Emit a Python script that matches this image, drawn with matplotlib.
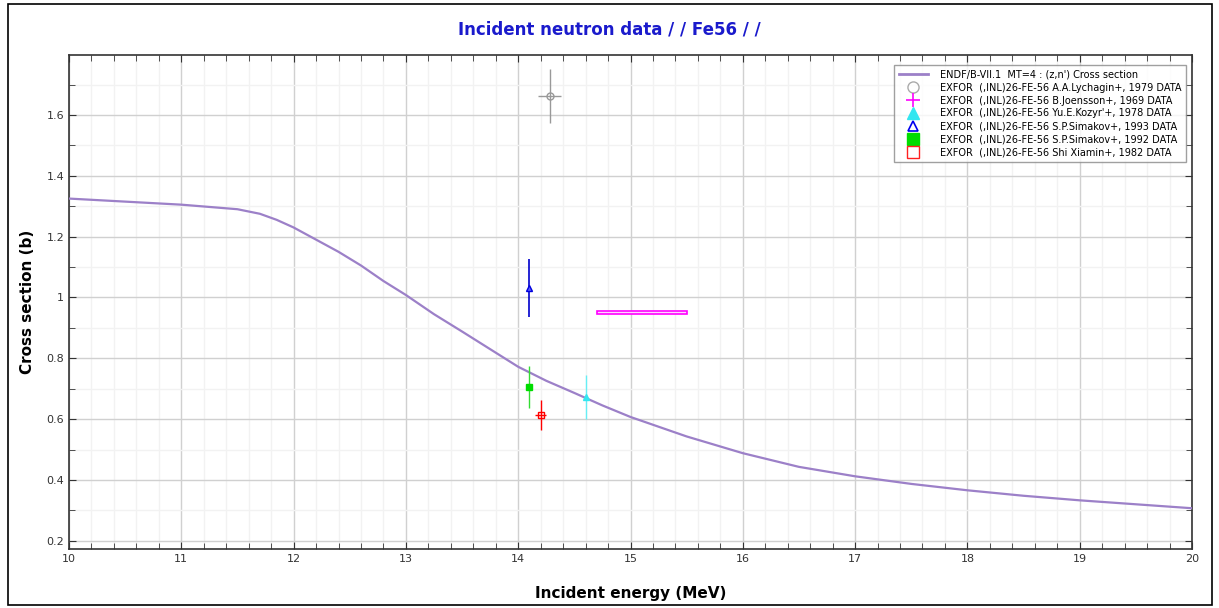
import matplotlib
matplotlib.use("Agg")
import matplotlib.pyplot as plt
from matplotlib.patches import Rectangle
from matplotlib.lines import Line2D
from matplotlib.ticker import MultipleLocator

# ENDF/B-VII.1 MT=4 curve
endf_e = [10, 10.5, 11, 11.5, 11.7, 11.85, 12, 12.2, 12.4, 12.6, 12.8, 13, 13.25, 13.5, 13.75, 14,
          14.25, 14.5, 14.75, 15, 15.5, 16, 16.5, 17, 17.5, 18, 18.5, 19, 19.5, 20]
endf_xs = [1.325, 1.315, 1.305, 1.29, 1.275, 1.255, 1.23, 1.19, 1.15, 1.105, 1.054, 1.008, 0.945,
           0.888, 0.83, 0.772, 0.726, 0.686, 0.645, 0.607, 0.543, 0.488, 0.443, 0.412, 0.387,
           0.366, 0.348, 0.333, 0.32, 0.307]

# EXFOR data points: energy, xs, dE, dxs
lych_e, lych_xs, lych_de, lych_dxs = [14.28], [1.662], [0.1], [0.09]
joen_e, joen_xs, joen_de, joen_dxs = [15.1], [0.951], [0.4], [0.006]
kozyr_e, kozyr_xs, kozyr_dxs = [14.6], [0.672], [0.072]
sim93_e, sim93_xs, sim93_dxs = [14.1], [1.03], [0.095]
sim92_e, sim92_xs, sim92_dxs = [14.1], [0.706], [0.07]
shi_e, shi_xs, shi_de, shi_dxs = [14.2], [0.613], [0.05], [0.05]

labels = [
    "ENDF/B-VII.1  MT=4 : (z,n') Cross section",
    "EXFOR  (,INL)26-FE-56 A.A.Lychagin+, 1979 DATA",
    "EXFOR  (,INL)26-FE-56 B.Joensson+, 1969 DATA",
    "EXFOR  (,INL)26-FE-56 Yu.E.Kozyr'+, 1978 DATA",
    "EXFOR  (,INL)26-FE-56 S.P.Simakov+, 1993 DATA",
    "EXFOR  (,INL)26-FE-56 S.P.Simakov+, 1992 DATA",
    "EXFOR  (,INL)26-FE-56 Shi Xiamin+, 1982 DATA",
]

fig = plt.figure(figsize=(12.19, 6.08), dpi=100)
ax = fig.add_axes([69 / 1219, 1 - 549 / 608, (1192 - 69) / 1219, (549 - 55) / 608])

# outer frame around the picture
fig.patches.append(Rectangle((8 / 1219, 3 / 608), 1204 / 1219, 601 / 608, transform=fig.transFigure,
                             fill=False, edgecolor="black", lw=1.2))

ax.plot(endf_e, endf_xs, color="#9c80c8", lw=1.6, zorder=3)

ax.errorbar(lych_e, lych_xs, xerr=lych_de, yerr=lych_dxs, fmt="o", ms=5, mfc="none", mec="#999999",
            ecolor="#999999", elinewidth=1, zorder=4)
# Joensson: energy-bin box
for e, xs, de, dxs in zip(joen_e, joen_xs, joen_de, joen_dxs):
    ax.add_patch(Rectangle((e - de, xs - dxs), 2 * de, 2 * dxs, facecolor="#ffd8ff",
                           edgecolor="#ff00ff", lw=1.2, zorder=4))
ax.errorbar(kozyr_e, kozyr_xs, yerr=kozyr_dxs, fmt="^", ms=5, color="#33e6f0",
            ecolor="#66eef5", elinewidth=1, zorder=4)
ax.errorbar(sim93_e, sim93_xs, yerr=sim93_dxs, fmt="^", ms=5, mfc="#5a5aff", mec="#0000dd",
            ecolor="#0000cc", elinewidth=1.2, zorder=4)
ax.errorbar(sim92_e, sim92_xs, yerr=sim92_dxs, fmt="s", ms=4, color="#00dd00",
            ecolor="#33dd33", elinewidth=1, zorder=4)
ax.errorbar(shi_e, shi_xs, xerr=shi_de, yerr=shi_dxs, fmt="s", ms=5, mfc="none", mec="#ff0000",
            ecolor="#ff0000", elinewidth=1, zorder=4)

ax.set_xlim(10, 20)
ax.set_ylim(0.173, 1.797)
ax.xaxis.set_major_locator(MultipleLocator(1))
ax.xaxis.set_minor_locator(MultipleLocator(0.2))
ax.yaxis.set_minor_locator(MultipleLocator(0.1))
ax.set_yticks([0.2, 0.4, 0.6, 0.8, 1.0, 1.2, 1.4, 1.6])
ax.set_yticklabels(["0.2", "0.4", "0.6", "0.8", "1", "1.2", "1.4", "1.6"])

ax.grid(True, which="major", color="#d0d0d0", lw=1)
ax.grid(True, which="minor", color="#f2f2f2", lw=1)
ax.set_axisbelow(True)
ax.tick_params(which="both", direction="in", top=True, right=True, labelsize=8, colors="#333333")
ax.tick_params(which="major", length=5)
ax.tick_params(which="minor", length=4)
for s in ax.spines.values():
    s.set_linewidth(1.2)
    s.set_color("#333333")

ax.set_xlabel("Incident energy (MeV)", fontsize=11, fontweight="bold", labelpad=16)
ax.set_ylabel("Cross section (b)", fontsize=11, fontweight="bold", labelpad=8)
fig.text(0.5, 1 - 29 / 608, "Incident neutron data / / Fe56 / /", ha="center", va="center",
         fontsize=12, fontweight="bold", color="#1a1acc")

handles = [
    Line2D([], [], color="#9c80c8", lw=2),
    Line2D([], [], ls="none", marker="o", ms=8, mfc="none", mec="#aaaaaa"),
    Line2D([], [], ls="none", marker="+", ms=10, mew=1.2, color="#ff00ff"),
    Line2D([], [], ls="none", marker="^", ms=8, color="#33e6f0"),
    Line2D([], [], ls="none", marker="^", ms=7, mfc="none", mec="#0000ee", mew=1.2),
    Line2D([], [], ls="none", marker="s", ms=8, color="#00dd00"),
    Line2D([], [], ls="none", marker="s", ms=8, mfc="none", mec="#ff2020"),
]
leg = ax.legend(handles, labels, loc="upper right", fontsize=7, frameon=True, fancybox=False,
                borderpad=0.5, labelspacing=0.3, handlelength=3, handletextpad=1.2,
                borderaxespad=0, bbox_to_anchor=(0.9947, 0.98))
leg.get_frame().set_edgecolor("#888888")
leg.get_frame().set_linewidth(1)

fig.savefig("out.png", dpi=100)
